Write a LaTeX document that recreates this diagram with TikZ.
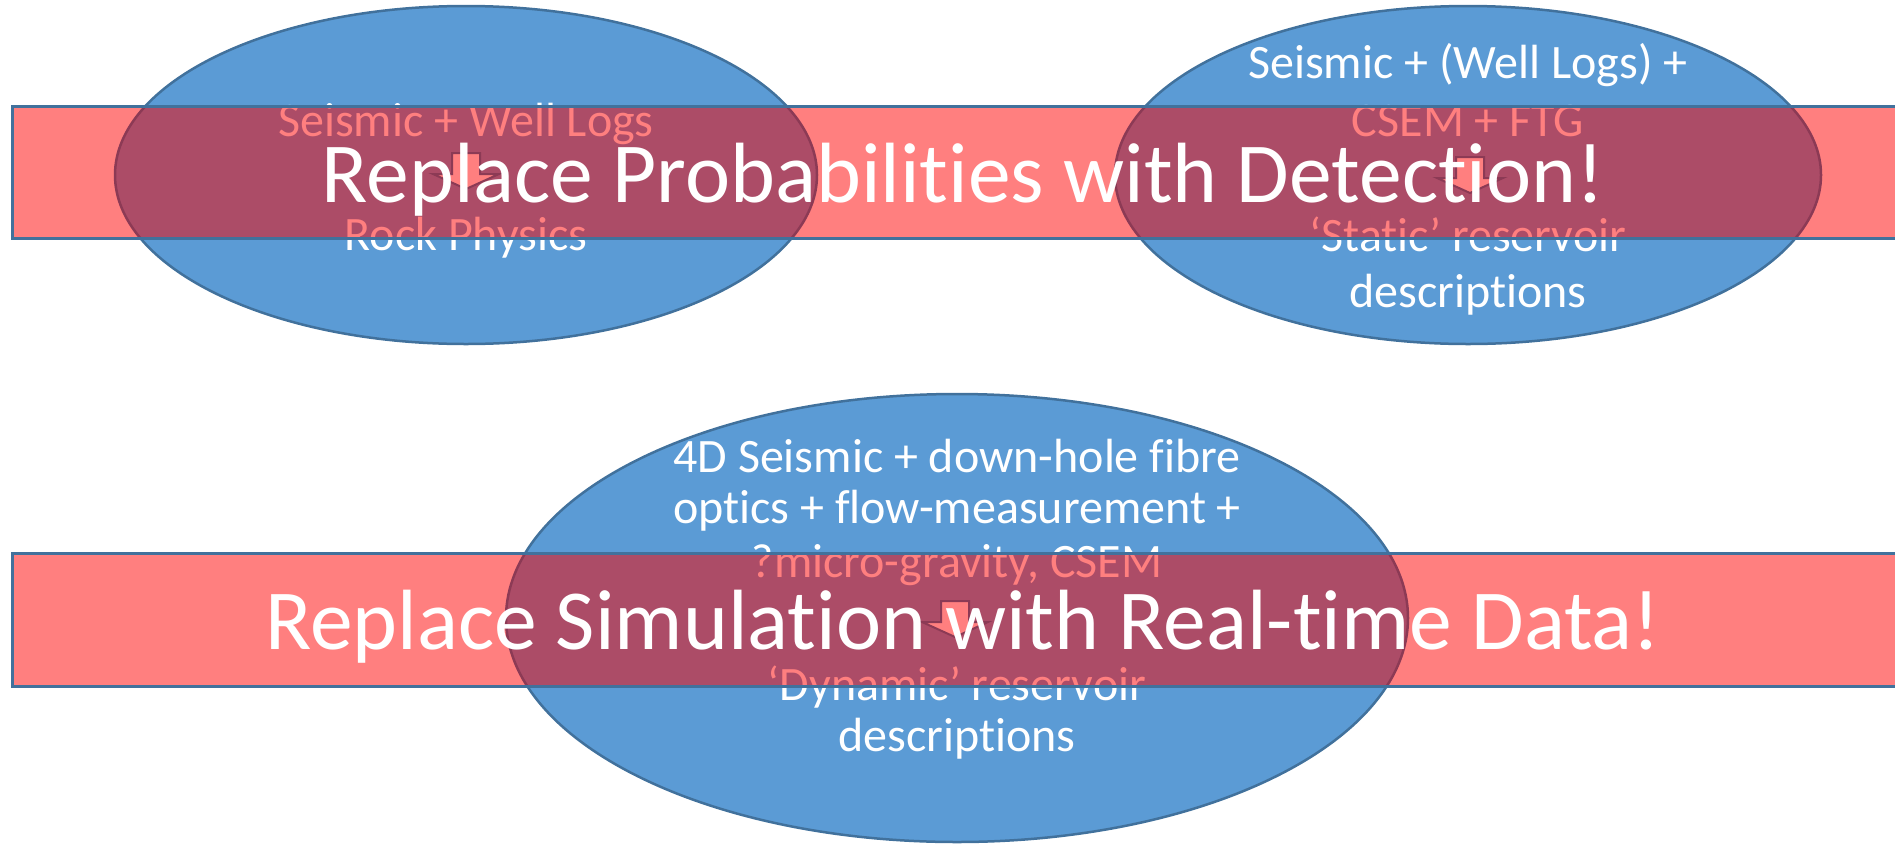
\documentclass[tikz,border=0pt]{standalone}
\usepackage{fontspec}
\setmainfont{Carlito}[Ligatures={NoCommon,NoRare,NoContextual}, Contextuals={NoAlternate}]
\definecolor{ellfill}{HTML}{5B9BD5}
\definecolor{ellline}{HTML}{41719C}
\definecolor{barfill}{HTML}{FF7F7F}
\definecolor{mixfill}{HTML}{AC4C67}
\definecolor{mixline}{HTML}{8C3A55}
\tikzset{
  smalltxt/.style={anchor=base, inner sep=0pt, font=\fontsize{48}{58}\selectfont},
  bigtxt/.style={anchor=base, inner sep=0pt, text=white, font=\fontsize{85.5}{100}\selectfont},
  ellbase/.style={fill=ellfill, draw=ellline, line width=2.5pt},
  ellmix/.style={fill=mixfill, draw=mixline, line width=2.5pt},
  barbase/.style={draw=ellline, line width=3pt},
  arrowmix/.style={fill=barfill, draw=mixline, line width=2pt, line join=miter},
  downarrow/.pic={\path[pic actions] (-14,-19) -- (14,-19) -- (14,2) -- (33,2) -- (0,17) -- (-33,2) -- (-14,2) -- cycle;}
}
\newcommand\linesA[2]{%
  \node[smalltxt,text=#1] (#2a1) at (466,136) {Seismic + Well Logs};
  \node[smalltxt,text=#1] (#2a2) at (466,250) {Rock Physics};
}
\newcommand\linesB[2]{%
  \node[smalltxt,text=#1] (#2b1) at (1468,78) {Seismic + (Well Logs) +};
  \node[smalltxt,text=#1] (#2b2) at (1468,136) {CSEM + FTG};
  \node[smalltxt,text=#1] (#2b3) at (1468,251) {‘Static’ reservoir};
  \node[smalltxt,text=#1] (#2b4) at (1468,307) {descriptions};
}
\newcommand\linesC[2]{%
  \node[smalltxt,text=#1] (#2c1) at (957,472) {4D Seismic + down-hole fibre};
  \node[smalltxt,text=#1] (#2c2) at (957,523) {optics + flow-measurement +};
  \node[smalltxt,text=#1] (#2c3) at (957,577) {?micro-gravity, CSEM};
  \node[smalltxt,text=#1] (#2c4) at (957,700) {‘Dynamic’ reservoir};
  \node[smalltxt,text=#1] (#2c5) at (957,751) {descriptions};
}
\begin{document}
\begin{tikzpicture}[x=1pt, y=-1pt]
\useasboundingbox (0,0) rectangle (1895,844);
\coordinate (c1) at (466,175);
\coordinate (c2) at (1468,175);
\coordinate (c3) at (957,618);
\coordinate (b1a) at (12,106);
\coordinate (b1b) at (1915,238);
\coordinate (b2a) at (12,553);
\coordinate (b2b) at (1915,686);
% ellipses
\draw[ellbase] (c1) ellipse [x radius=351, y radius=169];
\draw[ellbase] (c2) ellipse [x radius=353, y radius=169];
\draw[ellbase] (c3) ellipse [x radius=451, y radius=224];
\linesA{white}{w}
\linesB{white}{w}
\linesC{white}{w}
% bars
\fill[barfill] (b1a) rectangle (b1b);
\fill[barfill] (b2a) rectangle (b2b);
\begin{scope}
  \clip (b1a) rectangle (b1b) (b2a) rectangle (b2b);
  \draw[ellmix] (c1) ellipse [x radius=351, y radius=169];
  \draw[ellmix] (c2) ellipse [x radius=353, y radius=169];
  \draw[ellmix] (c3) ellipse [x radius=451, y radius=224];
  \pic[arrowmix] at (466,172) {downarrow};
  \pic[arrowmix] at (1470,176) {downarrow};
  \pic[arrowmix] at (955,620) {downarrow};
  \linesA{barfill}{p}
  \linesB{barfill}{p}
  \linesC{barfill}{p}
\end{scope}
\draw[barbase] (b1a) rectangle (b1b);
\draw[barbase] (b2a) rectangle (b2b);
\node[bigtxt] (t1) at (963,202) {Replace Probabilities with Detection!};
\node[bigtxt] (t2) at (963,649) {Replace Simulation with Real-time Data!};
\end{tikzpicture}
\end{document}
